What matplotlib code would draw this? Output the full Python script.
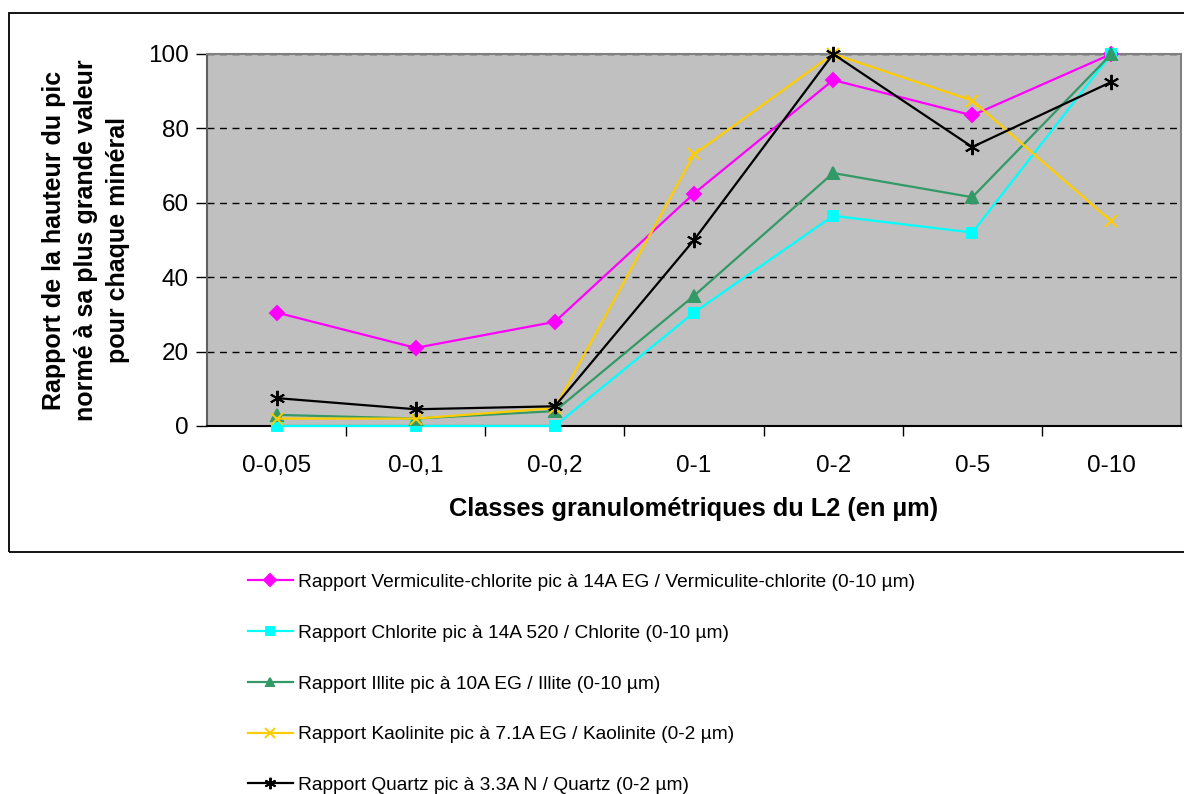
import matplotlib
matplotlib.use("Agg")
import matplotlib.pyplot as plt
from matplotlib.patches import Rectangle

plt.rcParams['font.family'] = ['Liberation Sans', 'DejaVu Sans']

classes = ['0-0,05', '0-0,1', '0-0,2', '0-1', '0-2', '0-5', '0-10']

vermiculite = [30.5, 21, 28, 62.5, 93, 83.5, 100]
chlorite = [0, 0, 0, 30.5, 56.5, 52, 100]
illite = [3, 2, 4, 35, 68, 61.5, 100]
kaolinite = [2, 2, 4.8, 73, 100, 87.5, 55]
quartz = [7.5, 4.5, 5.3, 50, 100, 75, 92.5]

labels = [
    'Rapport Vermiculite-chlorite pic à 14A EG / Vermiculite-chlorite (0-10 µm)',
    'Rapport Chlorite pic à 14A 520 / Chlorite (0-10 µm)',
    'Rapport Illite pic à 10A EG / Illite (0-10 µm)',
    'Rapport Kaolinite pic à 7.1A EG / Kaolinite (0-2 µm)',
    'Rapport Quartz pic à 3.3A N / Quartz (0-2 µm)',
]

fig = plt.figure(figsize=(11.84, 7.94), dpi=100)
W, H = 1184, 794
ax = fig.add_axes([207 / W, 1 - 426 / H, (1181 - 207) / W, (426 - 54) / H])
ax.set_facecolor('#C0C0C0')

x = list(range(len(classes)))
styles = [
    (vermiculite, '#FF00FF', 'D', 7.5),
    (chlorite, '#00FFFF', 's', 7.5),
    (illite, '#339966', '^', 8.5),
    (kaolinite, '#FFCC00', 'x', 9),
    (quartz, '#000000', (6, 2, 0), 11),
]
handles = []
for (vals, col, mk, ms), lab in zip(styles, labels):
    h, = ax.plot(x, vals, color=col, marker=mk, markersize=ms, lw=1.6,
                 mew=1.4, clip_on=False, label=lab, zorder=3)
    handles.append(h)

ax.set_xlim(-0.5, len(classes) - 0.5)
ax.set_ylim(0, 100)
ax.set_yticks([0, 20, 40, 60, 80, 100])
ax.set_xticks(x)
ax.set_xticklabels(classes)
ax.set_xticks([i + 0.5 for i in range(len(classes) - 1)], minor=True)
ax.tick_params(axis='x', which='major', length=0, labelsize=17.5, pad=21)
ax.tick_params(axis='x', which='minor', length=7, width=1, direction='out')
ax.tick_params(axis='y', length=8, width=1, direction='out', labelsize=17.5, pad=5)

ax.yaxis.grid(True, linestyle=(0, (5, 4)), color='black', lw=1)
ax.set_axisbelow(True)
for side in ['top', 'right']:
    ax.spines[side].set_color('#808080')
    ax.spines[side].set_linewidth(1.5)
ax.spines['left'].set_color('#606060')
ax.spines['left'].set_linewidth(1.5)
ax.spines['bottom'].set_color('black')
ax.spines['bottom'].set_linewidth(1.5)

ax.set_xlabel('Classes granulométriques du L2 (en µm)', fontsize=18.3,
              fontweight='bold', labelpad=14)
fig.text(86 / W, 1 - 240 / H,
         'Rapport de la hauteur du pic\nnormé à sa plus grande valeur\npour chaque minéral',
         rotation=90, ha='center', va='center', fontsize=18, fontweight='bold',
         linespacing=1.4)

fig.patches.append(Rectangle((9 / W, 1 - 552 / H), 1.2, (552 - 13) / H,
                             transform=fig.transFigure, fill=False,
                             edgecolor='black', lw=1.3))

fig.legend(handles=handles, loc='upper left', bbox_to_anchor=(240 / W, 1 - 566 / H),
           frameon=False, fontsize=13.8, handlelength=2.35, handletextpad=0.3,
           labelspacing=1.74, borderaxespad=0, markerscale=0.75)

fig.savefig('out.png', dpi=100)
